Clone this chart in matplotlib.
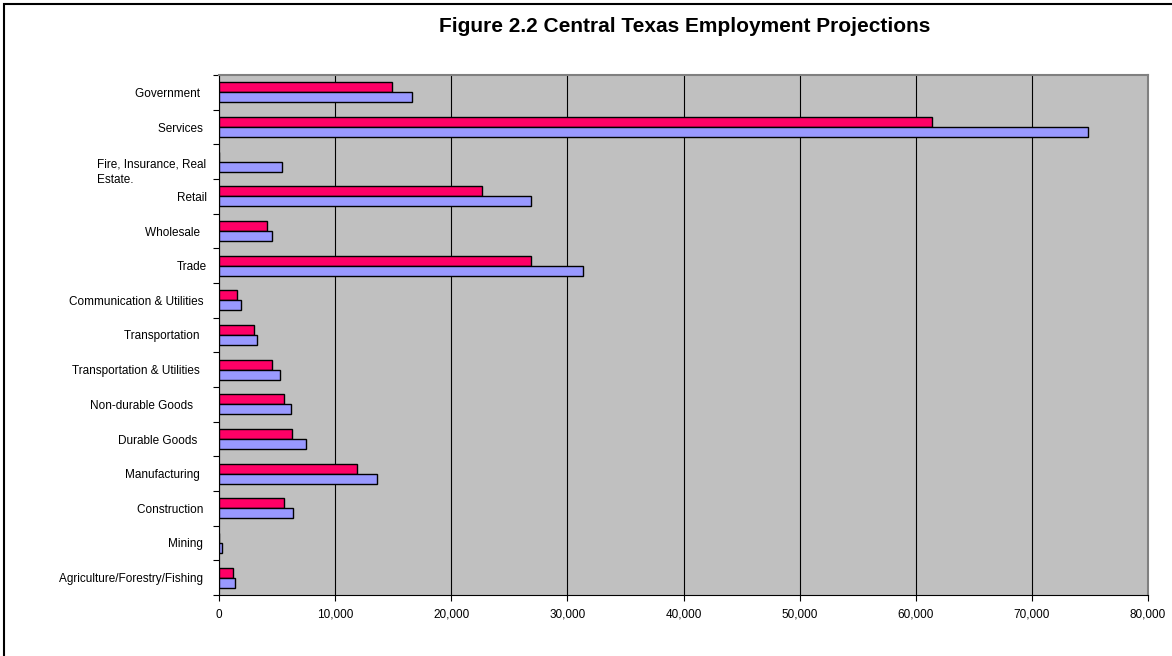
import numpy as np
import matplotlib
matplotlib.use("Agg")
from matplotlib import pyplot as plt
from matplotlib.patches import Rectangle
from matplotlib.ticker import FuncFormatter, FixedLocator
import matplotlib.transforms as mtransforms

plt.rcParams['font.family'] = ['Liberation Sans', 'DejaVu Sans']

# categories from bottom to top
categories = ['Agriculture/Forestry/Fishing', 'Mining', 'Construction', 'Manufacturing',
              'Durable Goods', 'Non-durable Goods', 'Transportation & Utilities',
              'Transportation', 'Communication & Utilities', 'Trade', 'Wholesale',
              'Retail', 'Fire, Insurance, Real\nEstate.', 'Services', 'Government']
tick_labels = ['Agriculture/Forestry/Fishing ', 'Mining ', 'Construction ', 'Manufacturing  ',
               'Durable Goods   ', 'Non-durable Goods    ', 'Transportation & Utilities  ',
               'Transportation  ', 'Communication & Utilities ', 'Trade', 'Wholesale  ',
               'Retail', 'Fire, Insurance, Real\nEstate.        ', 'Services ', 'Government  ']
red_values = [1230, 0, 5630, 11860, 6260, 5630, 4560, 3040, 1520, 26900, 4100,
              22650, 0, 61400, 14920]
blue_values = [1400, 260, 6350, 13640, 7470, 6200, 5250, 3300, 1900, 31350, 4540,
               26900, 5400, 74850, 16600]

fig = plt.figure(figsize=(11.72, 6.56), dpi=100)
ax = fig.add_axes([219 / 1172, 1 - 595 / 656, (1148 - 219) / 1172, (595 - 75) / 656])

y = np.arange(len(categories))
h = 0.29
ax.barh(y + h / 2, red_values, height=h, color='#FF0066', edgecolor='black', linewidth=1, zorder=3)
ax.barh(y - h / 2, blue_values, height=h, color='#9999FF', edgecolor='black', linewidth=1, zorder=3)

ax.set_facecolor('#C0C0C0')
ax.set_xlim(0, 80000)
ax.set_ylim(-0.5, len(categories) - 0.5)
ax.set_xticks(np.arange(0, 80001, 10000))
ax.xaxis.set_major_formatter(FuncFormatter(lambda v, p: f'{int(v):,}'))
ax.grid(axis='x', color='black', linewidth=0.8, zorder=1)

ax.set_yticks(y)
ax.set_yticklabels(tick_labels, fontsize=8.5)
ax.tick_params(axis='y', length=0, pad=9)
ax.yaxis.set_minor_locator(FixedLocator(np.arange(-0.5, len(categories), 1)))
ax.tick_params(axis='y', which='minor', length=4, width=0.8, direction='out')
ax.tick_params(axis='x', length=4, width=0.8, labelsize=8.5, pad=6)

for lab in ax.get_yticklabels():
    if lab.get_text().startswith('Fire'):
        lab.set_multialignment('left')
        lab.set_linespacing(1.45)
        lab.set_transform(lab.get_transform() +
                          mtransforms.ScaledTranslation(0, -7 / 100, fig.dpi_scale_trans))

for side in ['top', 'right']:
    ax.spines[side].set_color('#808080')
    ax.spines[side].set_linewidth(1.5)
ax.spines['left'].set_color('black')
ax.spines['bottom'].set_color('black')

fig.text(685 / 1172, 1 - 26 / 656, 'Figure 2.2 Central Texas Employment Projections',
         ha='center', va='center', fontsize=15, fontweight='bold')

fig.patches.append(Rectangle((4 / 1172, -0.1), 1.2, 1 - 4 / 656 + 0.1, transform=fig.transFigure,
                             fill=False, edgecolor='black', linewidth=1.5))

fig.savefig('out.png', dpi=100)
